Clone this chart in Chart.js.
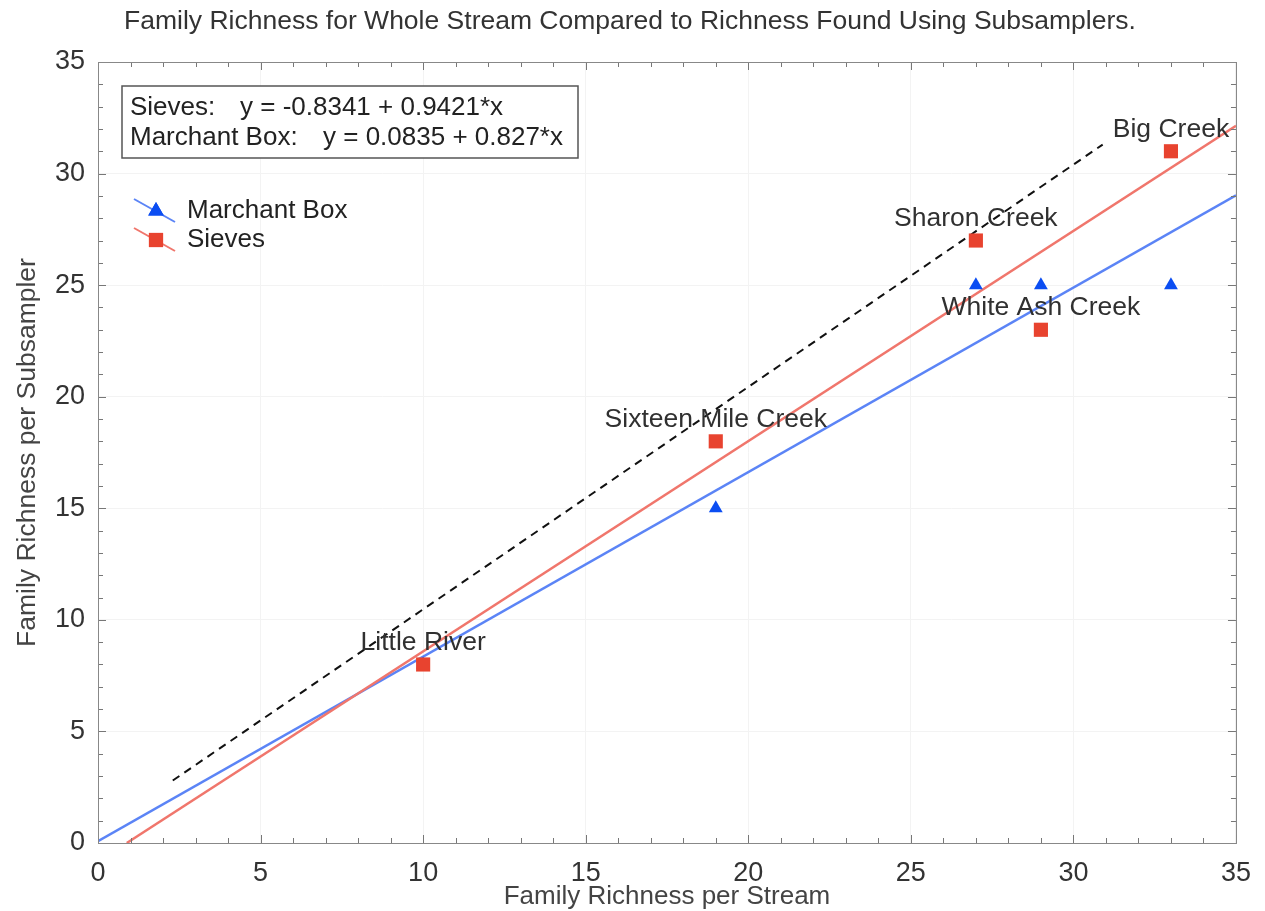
<!DOCTYPE html>
<html>
<head>
<meta charset="utf-8">
<script src="https://cdn.jsdelivr.net/npm/chart.js@4.4.0/dist/chart.umd.min.js"></script>
<style>
  html, body { margin: 0; padding: 0; background: #fff; }
  #wrap { width: 1265px; height: 911px; }
</style>
</head>
<body>
<div id="wrap"><canvas id="richChart" width="1265" height="911"></canvas></div>
<script>
// data
const streams = ['Little River', 'Sixteen Mile Creek', 'Sharon Creek', 'White Ash Creek', 'Big Creek'];
const wholeStream = [10, 19, 27, 29, 33];
const sievesRichness = [8, 18, 27, 23, 31];
const marchantRichness = [8, 15, 25, 25, 25];

// fitted lines (end points) and the dashed reference line
const sievesFitX = [0.885, 35];
const sievesFitY = [0, 32.14];
const marchantFitX = [0, 35];
const marchantFitY = [0.0835, 29.03];
const refLineX = [2.3, 30.9];
const refLineY = [2.8, 31.3];

const equations = [
  ['Sieves:', 'y = -0.8341 + 0.9421*x'],
  ['Marchant Box:', 'y = 0.0835 + 0.827*x']
];
const axisTicks = [0, 5, 10, 15, 20, 25, 30, 35];

const RED = '#e8432f';
const BLUE = '#0b4df2';
const RED_LINE = '#f0766c';
const BLUE_LINE = '#5b84f6';
const SANS = '"Liberation Sans", Arial, sans-serif';

const pts = (xs, ys) => xs.map((x, i) => ({ x: x, y: ys[i] }));

const minorTicks = {
  id: 'minorTicks',
  afterDatasetsDraw(chart) {
    const { ctx, chartArea: a, scales: { x, y } } = chart;
    ctx.save();
    ctx.strokeStyle = '#777';
    ctx.lineWidth = 1;
    ctx.beginPath();
    for (let v = 0; v <= 35; v++) {
      const len = v % 5 === 0 ? 8 : 5;
      const px = Math.round(x.getPixelForValue(v)) + 0.5;
      ctx.moveTo(px, a.bottom); ctx.lineTo(px, a.bottom - len);
      ctx.moveTo(px, a.top); ctx.lineTo(px, a.top + len);
      const py = Math.round(y.getPixelForValue(v)) + 0.5;
      ctx.moveTo(a.left, py); ctx.lineTo(a.left + len, py);
      ctx.moveTo(a.right, py); ctx.lineTo(a.right - len, py);
    }
    ctx.stroke();
    ctx.strokeStyle = '#888';
    ctx.strokeRect(a.left + 0.5, a.top + 0.5, a.right - a.left, a.bottom - a.top);
    ctx.restore();
  }
};

const annotations = {
  id: 'annotations',
  afterDatasetsDraw(chart) {
    const { ctx, scales: { x, y } } = chart;
    ctx.save();
    // stream labels above the sieve points
    ctx.font = '26.5px ' + SANS;
    ctx.fillStyle = '#303030';
    ctx.textAlign = 'center';
    ctx.textBaseline = 'middle';
    streams.forEach((s, i) => {
      ctx.fillText(s, x.getPixelForValue(wholeStream[i]), y.getPixelForValue(sievesRichness[i]) - 22);
    });

    // equation box
    ctx.font = '26px ' + SANS;
    ctx.textAlign = 'left';
    ctx.strokeStyle = '#555';
    ctx.lineWidth = 1.5;
    ctx.fillStyle = '#fff';
    ctx.fillRect(122, 86, 456, 72);
    ctx.strokeRect(122, 86, 456, 72);
    ctx.fillStyle = '#222';
    ctx.fillText(equations[0][0], 130, 108);
    ctx.fillText(equations[0][1], 240, 108);
    ctx.fillText(equations[1][0], 130, 138);
    ctx.fillText(equations[1][1], 323, 138);

    // legend with diagonal line + marker
    const items = [
      { label: chart.data.datasets[1].label, line: BLUE_LINE, fill: BLUE, style: 'triangle', r: 9 },
      { label: chart.data.datasets[0].label, line: RED_LINE, fill: RED, style: 'rect', r: 10 }
    ];
    items.forEach((it, i) => {
      const cy = 211 + i * 29;
      ctx.strokeStyle = it.line;
      ctx.lineWidth = 2;
      ctx.beginPath();
      ctx.moveTo(134, cy - 12);
      ctx.lineTo(175, cy + 11);
      ctx.stroke();
      ctx.fillStyle = it.fill;
      Chart.helpers.drawPoint(ctx, { pointStyle: it.style, radius: it.r, rotation: 0, borderWidth: 0 }, 156, cy);
      ctx.fill();
      ctx.fillStyle = '#222';
      ctx.font = '26px ' + SANS;
      ctx.fillText(it.label, 187, cy);
    });
    ctx.restore();
  }
};

new Chart(document.getElementById('richChart'), {
  type: 'scatter',
  data: {
    datasets: [
      {
        label: 'Sieves',
        data: pts(wholeStream, sievesRichness),
        pointStyle: 'rect',
        pointRadius: 10,
        backgroundColor: RED,
        borderWidth: 0,
        order: 1
      },
      {
        label: 'Marchant Box',
        data: pts(wholeStream, marchantRichness),
        pointStyle: 'triangle',
        pointRadius: 8,
        backgroundColor: BLUE,
        borderWidth: 0,
        order: 2
      },
      {
        label: 'Sieves fit',
        type: 'line',
        data: pts(sievesFitX, sievesFitY),
        borderColor: RED_LINE,
        borderWidth: 2.5,
        pointRadius: 0,
        order: 3
      },
      {
        label: 'Marchant fit',
        type: 'line',
        data: pts(marchantFitX, marchantFitY),
        borderColor: BLUE_LINE,
        borderWidth: 2.5,
        pointRadius: 0,
        order: 4
      },
      {
        label: '1:1',
        type: 'line',
        data: pts(refLineX, refLineY),
        borderColor: '#111',
        borderWidth: 2,
        borderDash: [8, 6],
        pointRadius: 0,
        order: 5
      }
    ]
  },
  options: {
    responsive: false,
    animation: false,
    layout: { padding: { left: 0, top: 62, right: 27, bottom: 0 } },
    plugins: {
      legend: { display: false },
      tooltip: { enabled: false },
      title: { display: false }
    },
    scales: {
      x: {
        type: 'linear',
        min: 0, max: 35,
        afterFit: s => { s.height = 68; },
        afterBuildTicks: s => { s.ticks = axisTicks.map(v => ({ value: v })); },
        grid: { color: '#f3f3f3', drawTicks: false },
        border: { display: false },
        ticks: { padding: 14, color: '#333', font: { family: SANS, size: 27 } },
        title: {
          display: true,
          text: 'Family Richness per Stream',
          color: '#444',
          font: { family: SANS, size: 26, lineHeight: 1 },
          padding: { top: 0, bottom: 1 }
        }
      },
      y: {
        type: 'linear',
        min: 0, max: 35,
        afterFit: s => { s.width = 98; },
        afterBuildTicks: s => { s.ticks = axisTicks.map(v => ({ value: v })); },
        grid: { color: '#f3f3f3', drawTicks: false },
        border: { display: false },
        ticks: { padding: 13, color: '#333', font: { family: SANS, size: 27 } },
        title: {
          display: true,
          text: 'Family Richness per Subsampler',
          color: '#444',
          font: { family: SANS, size: 26.5, lineHeight: 1 },
          padding: { top: 14, bottom: 0 }
        }
      }
    }
  },
  plugins: [minorTicks, annotations, {
    id: 'mainTitle',
    afterDraw(chart) {
      const ctx = chart.ctx;
      ctx.save();
      ctx.font = '26.5px ' + SANS;
      ctx.fillStyle = '#333';
      ctx.textAlign = 'center';
      ctx.textBaseline = 'middle';
      ctx.fillText('Family Richness for Whole Stream Compared to Richness Found Using Subsamplers.', 630, 22);
      ctx.restore();
    }
  }]
});
</script>
</body>
</html>
